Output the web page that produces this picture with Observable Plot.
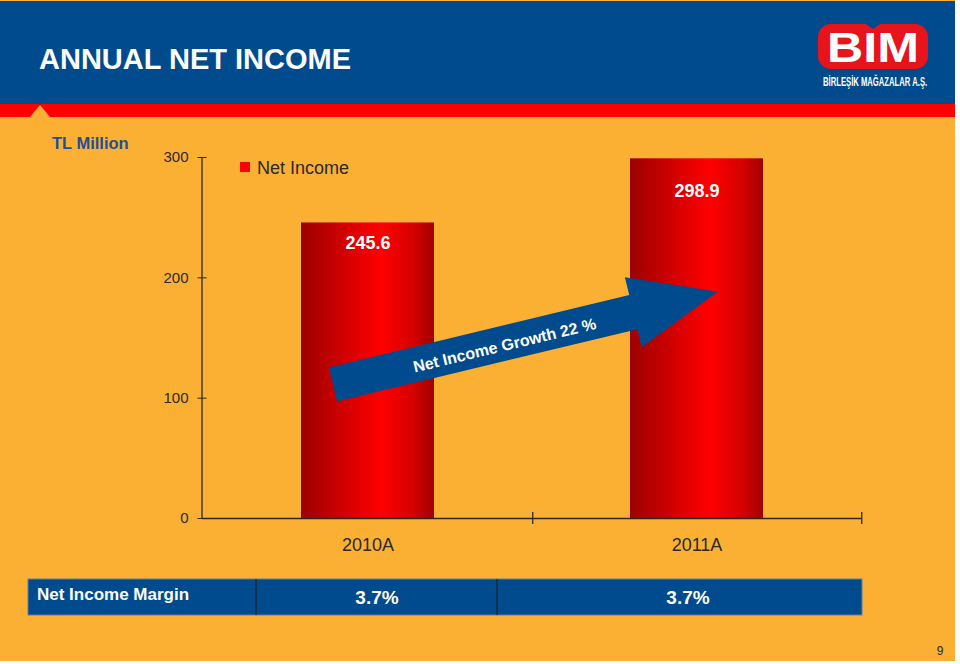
<!DOCTYPE html>
<html>
<head>
<meta charset="utf-8">
<script src="https://cdn.jsdelivr.net/npm/d3@7"></script>
<script src="https://cdn.jsdelivr.net/npm/@observablehq/plot@0.6"></script>
<style>
  html, body { margin: 0; padding: 0; background: #ffffff; }
  body { font-family: "Liberation Sans", Arial, sans-serif; }
  #slide { position: absolute; left: 0; top: 0; width: 955px; height: 661px; background: #fbb034; overflow: hidden; }
  #deco { position: absolute; left: 0; top: 0; }
  #chart { position: absolute; left: 0; top: 120px; }
</style>
</head>
<body>
<div id="slide">
  <svg id="deco" width="955" height="661" xmlns="http://www.w3.org/2000/svg"></svg>
  <div id="chart"></div>
</div>
<script>
// ---------------- data ----------------
const categories = ["2010A", "2011A"];
const netIncome = [245.6, 298.9];
const yTicks = [0, 100, 200, 300];
const marginLabels = ["3.7%", "3.7%"];
const seriesName = "Net Income";
const unitLabel = "TL Million";
const titleText = "ANNUAL NET INCOME";
const growthText = "Net Income Growth 22 %";
const rowLabel = "Net Income Margin";
const pageNumber = "9";

const data = categories.map((c, i) => ({year: c, value: netIncome[i]}));

// ---------------- colours ----------------
const BLUE = "#004b8d";
const RED = "#ff0000";
const ORANGE = "#fbb034";
const INK = "#2a2a2a";

// ---------------- decoration (header, logo, legend, table) ----------------
const deco = d3.select("#deco");
deco.append("rect").attr("x", 0).attr("y", 1).attr("width", 955).attr("height", 103).attr("fill", BLUE);
deco.append("rect").attr("x", 0).attr("y", 104).attr("width", 955).attr("height", 13).attr("fill", RED);
deco.append("polygon").attr("points", "30,117 40,105 50,117").attr("fill", ORANGE);
deco.append("text").attr("x", 39).attr("y", 69).attr("fill", "#fff")
  .attr("font-size", 29).attr("font-weight", "bold").text(titleText);

// logo
const logo = deco.append("g").attr("transform", "translate(815,18)");
logo.append("rect").attr("x", 3).attr("y", 6).attr("width", 110).attr("height", 45).attr("rx", 13).attr("fill", "#e8141c");
logo.append("path").attr("d", "M49,5 L67,5 L58,11 Z").attr("fill", BLUE);
logo.append("text").attr("x", 12).attr("y", 44).attr("fill", "#fff").attr("font-size", 42)
  .attr("font-weight", "bold").attr("textLength", 92).attr("lengthAdjust", "spacingAndGlyphs").text("BIM");
logo.append("text").attr("transform", "translate(8,68) scale(0.64,1)").attr("fill", "#fff").attr("font-size", 12)
  .attr("font-weight", "bold").text("BİRLEŞİK MAĞAZALAR A.Ş.");

// unit label
deco.append("text").attr("x", 52).attr("y", 149).attr("fill", "#1f4e9a")
  .attr("font-size", 16.5).attr("font-weight", "bold").text(unitLabel);

// legend
deco.append("rect").attr("x", 240).attr("y", 162).attr("width", 10).attr("height", 10).attr("fill", RED);
deco.append("text").attr("x", 257).attr("y", 173.5).attr("fill", INK).attr("font-size", 18).text(seriesName);

// margin table
const tbl = deco.append("g");
tbl.append("rect").attr("x", 28).attr("y", 579).attr("width", 834).attr("height", 36).attr("fill", BLUE)
  .attr("stroke", "#5d7fa8").attr("stroke-width", 1);
[256, 497].forEach(xx => tbl.append("line").attr("x1", xx).attr("x2", xx).attr("y1", 579).attr("y2", 615)
  .attr("stroke", "#1a1a1a").attr("stroke-width", 1));
tbl.append("text").attr("x", 37).attr("y", 600).attr("fill", "#fff").attr("font-size", 17)
  .attr("font-weight", "bold").text(rowLabel);
const cellCenters = [377, 688];
marginLabels.forEach((m, i) => tbl.append("text").attr("x", cellCenters[i]).attr("y", 604)
  .attr("text-anchor", "middle").attr("fill", "#fff").attr("font-size", 19).attr("font-weight", "bold").text(m));

// page number
deco.append("text").attr("x", 940).attr("y", 655).attr("text-anchor", "middle").attr("fill", INK)
  .attr("font-size", 12).text(pageNumber);

// ---------------- chart ----------------
const W = 955, mL = 202, mR = 94, mT = 37, mB = 50, H = 448;
const band = (W - mL - mR) / categories.length;
const barInset = 98;

// gradient definition
const gradientDefs = () => {
  const defs = d3.create("svg:defs");
  const g = defs.append("linearGradient").attr("id", "barGrad")
    .attr("x1", 0).attr("x2", 1).attr("y1", 0).attr("y2", 0);
  g.append("stop").attr("offset", "0%").attr("stop-color", "#9c0000");
  g.append("stop").attr("offset", "60%").attr("stop-color", "#ff0000");
  g.append("stop").attr("offset", "85%").attr("stop-color", "#d40000");
  g.append("stop").attr("offset", "100%").attr("stop-color", "#a00000");
  return defs.node();
};

// y axis line
const yAxisLine = (index, scales, values, dims) => {
  const {y} = scales;
  const g = d3.create("svg:line")
    .attr("x1", dims.marginLeft).attr("x2", dims.marginLeft)
    .attr("y1", y(yTicks[0])).attr("y2", y(yTicks[yTicks.length - 1]))
    .attr("stroke", INK).attr("stroke-width", 1.3);
  return g.node();
};

// growth arrow annotation (anchored to the scales)
const arrowFrom = {year: "2010A", value: 111, frac: 0.395};
const arrowTo = {year: "2011A", value: 188, frac: 0.565};
const growthArrow = (index, scales) => {
  const {x, y} = scales;
  const bw = x.bandwidth();
  const p0 = [x(arrowFrom.year) + bw * arrowFrom.frac, y(arrowFrom.value)];
  const p1 = [x(arrowTo.year) + bw * arrowTo.frac, y(arrowTo.value)];
  const dx = p1[0] - p0[0], dy = p1[1] - p0[1];
  const L = Math.hypot(dx, dy);
  const u = [dx / L, dy / L], n = [-u[1], u[0]];
  const hs = 17.5, hh = 36, hl = 87;
  const at = (t, s) => [p0[0] + u[0] * t + n[0] * s, p0[1] + u[1] * t + n[1] * s];
  const pts = [at(0, -hs), at(L - hl, -hs), at(L - hl, -hh), p1, at(L - hl, hh), at(L - hl, hs), at(0, hs)];
  const g = d3.create("svg:g");
  g.append("polygon").attr("points", pts.map(p => p.join(",")).join(" ")).attr("fill", BLUE);
  const c = at(176, 2);
  const ang = Math.atan2(dy, dx) * 180 / Math.PI;
  g.append("text").attr("transform", `translate(${c[0]},${c[1]}) rotate(${ang})`)
    .attr("text-anchor", "middle").attr("dy", "0.35em").attr("fill", "#fff")
    .attr("font-size", 16).attr("font-weight", "bold").text(growthText);
  return g.node();
};

const chart = Plot.plot({
  width: W, height: H,
  marginLeft: mL, marginRight: mR, marginTop: mT, marginBottom: mB,
  style: {background: "transparent", fontFamily: "'Liberation Sans', Arial, sans-serif", color: INK, overflow: "visible"},
  x: {domain: categories, padding: 0, label: null},
  y: {domain: [0, 300], label: null},
  marks: [
    gradientDefs,
    Plot.barY(data, {x: "year", y: "value", fill: "url(#barGrad)", insetLeft: barInset, insetRight: barInset}),
    growthArrow,
    Plot.text(data.filter(d => d.year === categories[0]), {x: "year", y: "value", text: d => d.value.toFixed(1),
      dy: 20.5, fill: "#fff", fontSize: 18, fontWeight: "bold"}),
    Plot.text(data.filter(d => d.year === categories[1]), {x: "year", y: "value", text: d => d.value.toFixed(1),
      dy: 32.5, fill: "#fff", fontSize: 18, fontWeight: "bold"}),
    Plot.ruleY([0], {stroke: INK, strokeWidth: 1.3}),
    Plot.ruleX(categories, {x: d => d, y1: () => 0, y2: () => 0, dx: band / 2, insetTop: -6, insetBottom: -6, stroke: INK, strokeWidth: 1.3}),
    yAxisLine,
    Plot.axisY({ticks: yTicks, tickSize: 4.5, tickPadding: 9.5, fontSize: 15, stroke: INK, fill: INK, label: null}),
    Plot.axisY({ticks: yTicks, tickSize: 4.5, dx: 4.5, tickFormat: () => "", stroke: INK, label: null}),
    Plot.axisX({tickSize: 0, tickPadding: 20, fontSize: 18, fill: INK, label: null})
  ]
});
document.getElementById("chart").appendChild(chart);
</script>
</body>
</html>
